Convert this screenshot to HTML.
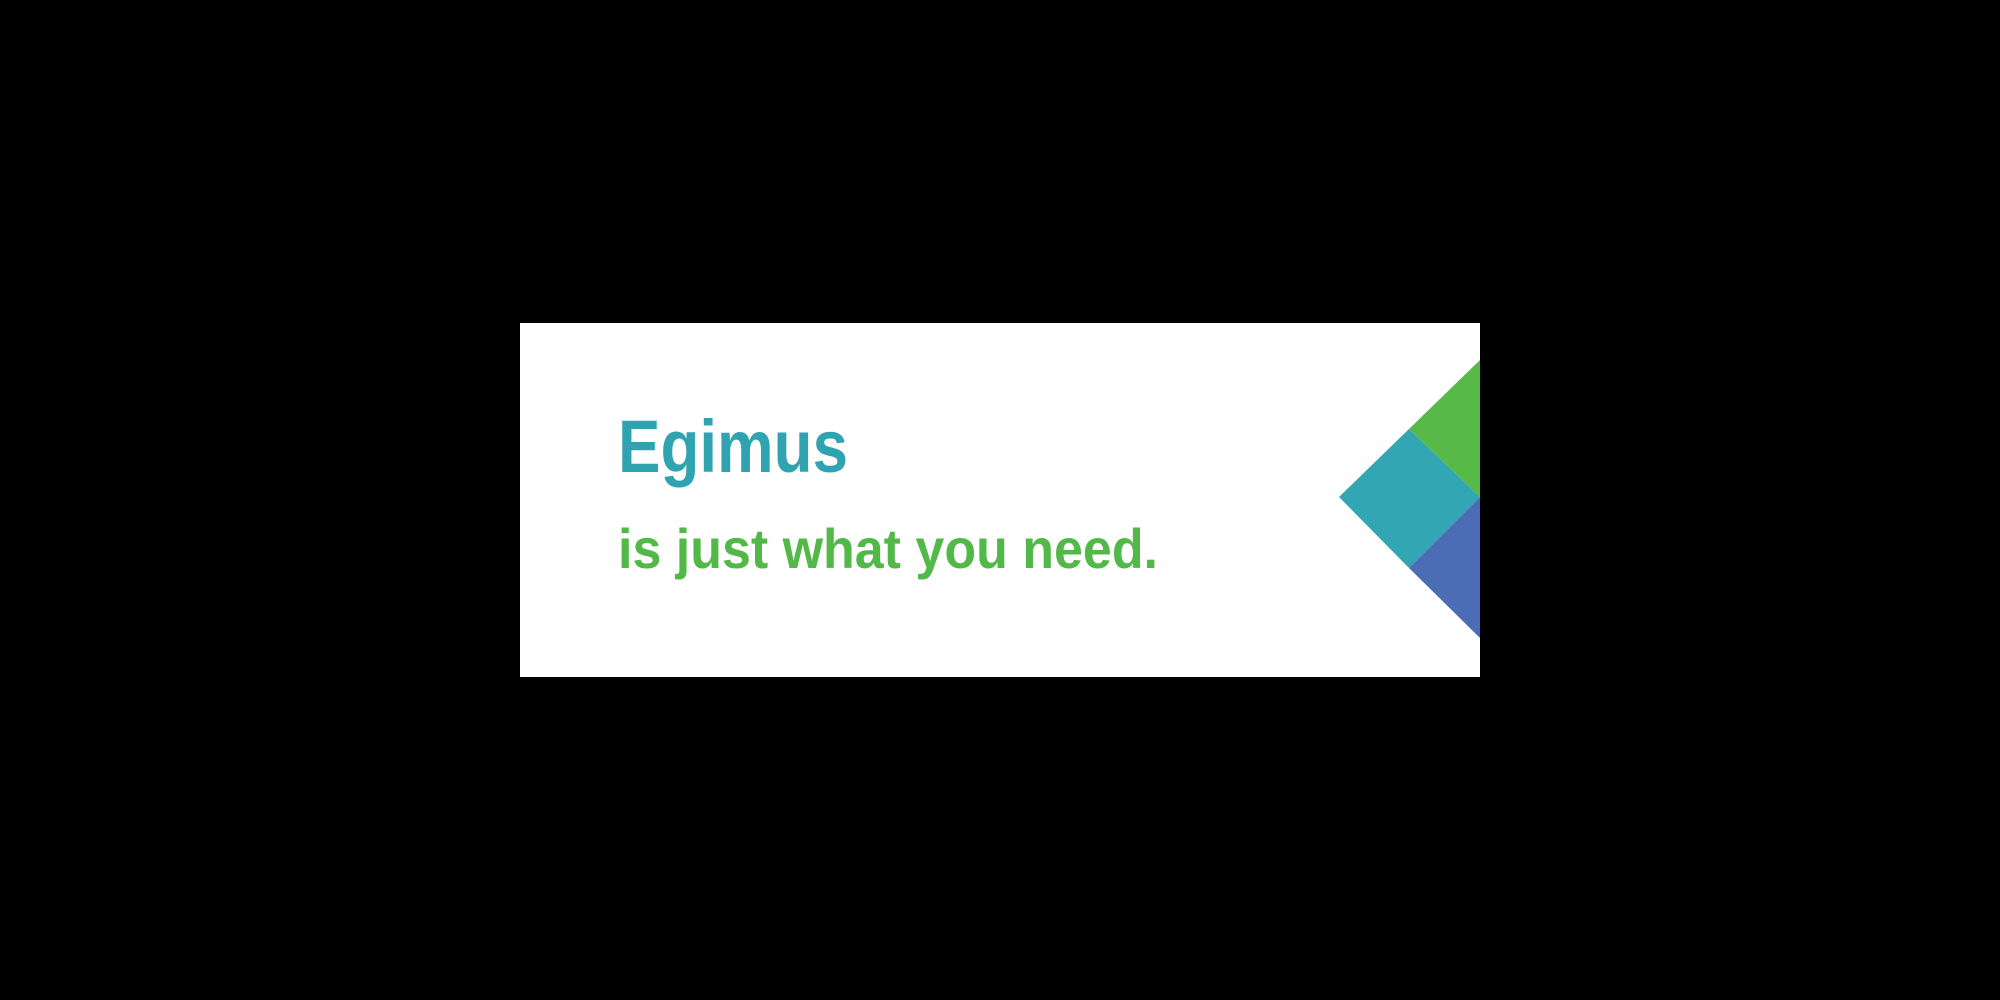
<!DOCTYPE html>
<html><head><meta charset="utf-8"><style>
html,body{margin:0;padding:0;background:#000;width:2000px;height:1000px;overflow:hidden}
svg{display:block}
text{font-family:"Liberation Sans",sans-serif;font-weight:bold}
</style></head><body>
<svg width="2000" height="1000" viewBox="0 0 2000 1000">
<rect x="0" y="0" width="2000" height="1000" fill="#000"/>
<rect x="520" y="323" width="960" height="354" fill="#fff"/>
<text x="618" y="472" font-size="74" fill="#2fa4b0" textLength="230" lengthAdjust="spacingAndGlyphs">Egimus</text>
<text x="618" y="568" font-size="56" fill="#52b848" textLength="540" lengthAdjust="spacingAndGlyphs">is just what you need.</text>
<polygon points="1339,497 1409,429 1480,497 1409,568" fill="#32a6b2"/>
<polygon points="1409,429 1480,360 1480,497" fill="#57b947"/>
<polygon points="1409,568 1480,497 1480,638" fill="#4a6db5"/>
</svg>
</body></html>
